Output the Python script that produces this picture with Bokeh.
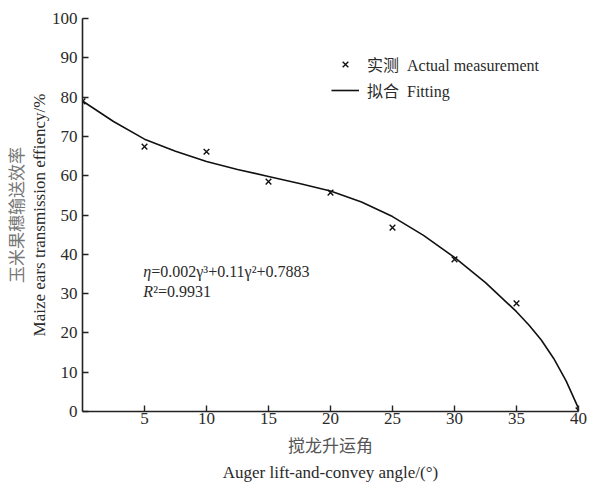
import math
from bokeh.plotting import figure
from bokeh.models import Label, Legend, LegendItem, FixedTicker, Range1d, Title
from bokeh.embed import file_html
from bokeh.resources import INLINE

# Measured data
angle = [0, 5, 10, 15, 20, 25, 30, 35, 40]
efficiency = [78.9, 67.4, 66.1, 58.5, 55.7, 46.8, 38.7, 27.5, 0.3]

# Fitted curve
fit_x = [0, 2.5, 5, 7.5, 10, 12.5, 15, 17.5, 20, 22.5, 25, 27.5, 30, 32.5, 35, 36, 37, 38, 39, 40]
fit_y = [79.0, 73.8, 69.3, 66.2, 63.6, 61.6, 59.8, 58.0, 56.1, 53.3, 49.6, 44.8, 39.2, 32.8, 25.4, 22.0, 18.2, 13.5, 7.8, 0.8]

x_ticks = [5, 10, 15, 20, 25, 30, 35, 40]
y_ticks = [0, 10, 20, 30, 40, 50, 60, 70, 80, 90, 100]

SERIF = "Liberation Serif"
CJK = "Noto Sans CJK SC"
TXT = "#2a2a2a"

p = figure(width=595, height=483, output_backend="svg", toolbar_location=None,
           x_range=Range1d(0, 40), y_range=Range1d(0, 100),
           min_border_left=75, min_border_right=17, min_border_top=18, min_border_bottom=72)
p.outline_line_color = None
p.xgrid.visible = False
p.ygrid.visible = False
p.background_fill_color = "white"
p.border_fill_color = "white"

for ax in (p.xaxis[0], p.yaxis[0]):
    ax.axis_line_color = "#222222"
    ax.axis_line_width = 1.6
    ax.major_tick_line_color = "#222222"
    ax.major_tick_line_width = 1.4
    ax.minor_tick_line_color = None
    ax.major_label_text_font = SERIF
    ax.major_label_text_font_size = "17px"
    ax.major_label_text_color = TXT
    ax.major_tick_in = 6
    ax.major_tick_out = 0

p.xaxis[0].ticker = FixedTicker(ticks=x_ticks)
p.yaxis[0].ticker = FixedTicker(ticks=y_ticks)
p.xaxis[0].major_label_standoff = 1
p.yaxis[0].major_label_standoff = 5

line_r = p.line(fit_x, fit_y, line_color="#111111", line_width=1.6)
pts_r = p.scatter(angle, efficiency, marker="x", size=8, line_color="#111111", line_width=1.4)

legend = Legend(items=[
    LegendItem(label="实测  Actual measurement", renderers=[pts_r]),
    LegendItem(label="拟合  Fitting", renderers=[line_r]),
], location=(249, 309), orientation="vertical")
legend.border_line_color = None
legend.background_fill_alpha = 0
legend.label_text_font = f"'{SERIF}', '{CJK}'"
legend.label_text_font_size = "16px"
legend.label_text_color = TXT
legend.glyph_width = 28
legend.glyph_height = 20
legend.label_height = 20
legend.spacing = 2
legend.padding = 0
legend.margin = 0
legend.label_standoff = 8
p.add_layout(legend)

# Equation annotations (italic symbols + upright rest)
p.add_layout(Label(x=4.9, y=35.6, text="η", text_font=SERIF, text_font_style="italic",
                   text_font_size="16px", text_color=TXT, text_baseline="middle"))
p.add_layout(Label(x=4.9, y=35.6, x_offset=8, text="=0.002γ³+0.11γ²+0.7883", text_font=SERIF,
                   text_font_size="16px", text_color=TXT, text_baseline="middle"))
p.add_layout(Label(x=4.9, y=30.5, text="R", text_font=SERIF, text_font_style="italic",
                   text_font_size="16px", text_color=TXT, text_baseline="middle"))
p.add_layout(Label(x=4.9, y=30.5, x_offset=10, text="²=0.9931", text_font=SERIF,
                   text_font_size="16px", text_color=TXT, text_baseline="middle"))

# Axis titles as Title panels
p.add_layout(Title(text="搅龙升运角", align="center", offset=-20, text_font=CJK,
                   text_font_size="17px", text_font_style="normal", text_color="#555555",
                   standoff=7), "below")
p.add_layout(Title(text="Auger lift-and-convey angle/(°)", align="center", offset=-23, text_font=SERIF,
                   text_font_size="17px", text_font_style="normal", text_color=TXT,
                   standoff=0), "below")
p.add_layout(Title(text="Maize ears transmission effiency/%", align="center", offset=0, text_font=SERIF,
                   text_font_size="17px", text_font_style="normal", text_color=TXT,
                   standoff=0), "left")
p.add_layout(Title(text="玉米果穗输送效率", align="center", offset=17, text_font=CJK,
                   text_font_size="17px", text_font_style="normal", text_color="#777777",
                   standoff=0), "left")

open("out.html", "w").write(file_html(p, INLINE))
